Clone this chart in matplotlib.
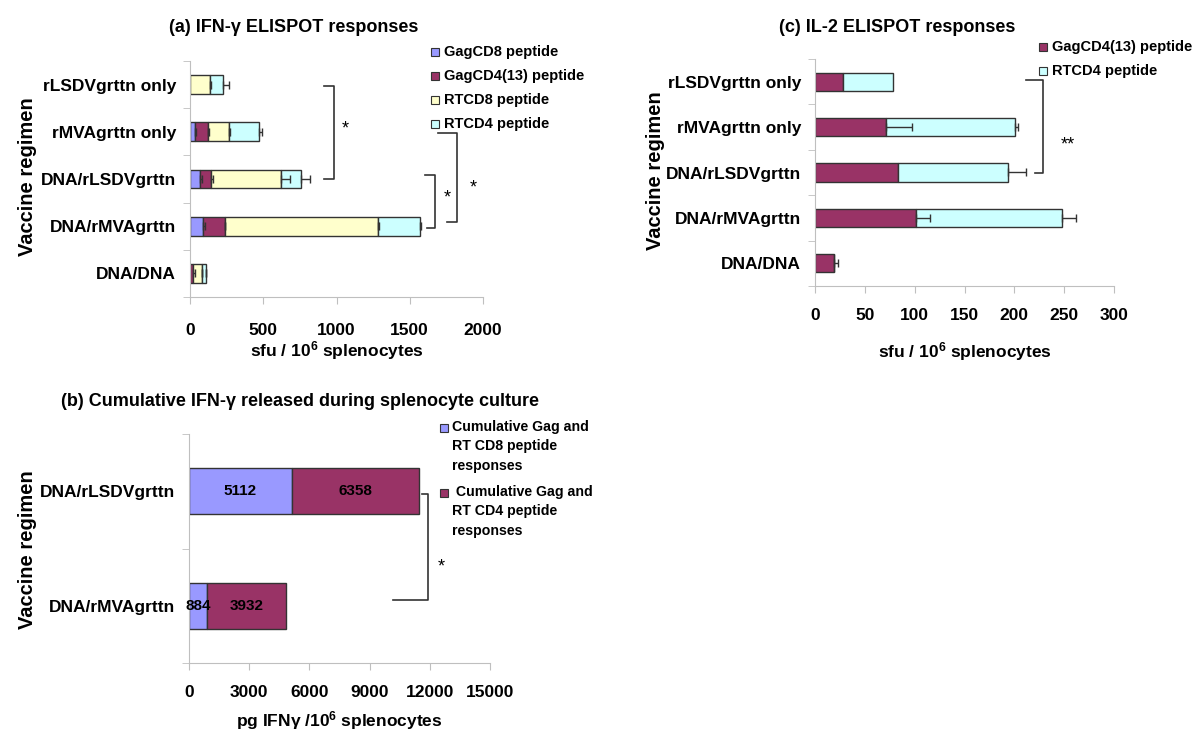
import numpy as np
import matplotlib
matplotlib.use('Agg')
import matplotlib.pyplot as plt
from matplotlib.patches import Rectangle

plt.rcParams['font.family'] = ['Liberation Sans', 'DejaVu Sans']
plt.rcParams['font.weight'] = 'bold'
plt.rcParams['axes.labelweight'] = 'bold'
plt.rcParams['mathtext.fontset'] = 'custom'
plt.rcParams['mathtext.bf'] = 'Liberation Sans:bold'
plt.rcParams['mathtext.rm'] = 'Liberation Sans:bold'
plt.rcParams['mathtext.default'] = 'bf'

# regimens, bottom to top
regimens = ['DNA/DNA', 'DNA/rMVAgrttn', 'DNA/rLSDVgrttn', 'rMVAgrttn only', 'rLSDVgrttn only']

# (a) IFN-g ELISPOT, stacked segments (sfu / 10^6 splenocytes)
ifn_gag_cd8 = [0, 92, 71, 34, 0]
ifn_gag_cd4 = [23, 144, 73, 92, 0]
ifn_rt_cd8 = [57, 1047, 475, 140, 138]
ifn_rt_cd4 = [28, 289, 136, 206, 89]
ifn_gag_cd8_err = [0, 9, 9, 10, 0]
ifn_gag_cd4_err = [9, 5, 10, 5, 0]
ifn_rt_cd8_err = [5, 5, 67, 5, 5]
ifn_rt_cd4_err = [4, 8, 64, 17, 37]
ifn_labels = ['GagCD8 peptide', 'GagCD4(13) peptide', 'RTCD8 peptide', 'RTCD4 peptide']

# (c) IL-2 ELISPOT
il2_gag_cd4 = [19.3, 101.3, 83.3, 71, 28.3]
il2_rt_cd4 = [0, 146.1, 110.7, 130, 50]
il2_gag_cd4_err = [3.4, 14, 0, 26.7, 0]
il2_rt_cd4_err = [0, 14.1, 17.6, 3, 0]
il2_labels = ['GagCD4(13) peptide', 'RTCD4 peptide']

# (b) cumulative IFN-g (pg / 10^6 splenocytes)
cum_regimens = ['DNA/rMVAgrttn', 'DNA/rLSDVgrttn']
cum_cd8 = [884, 5112]
cum_cd4 = [3932, 6358]
cum_labels = ['Cumulative Gag and\nRT CD8 peptide\nresponses',
              ' Cumulative Gag and\nRT CD4 peptide\nresponses']

BLUE, MAROON, YELLOW, CYAN = '#9999FF', '#993366', '#FFFFCC', '#CCFFFF'
EDGE = '#333333'
AXCOL = '#BFBFBF'

W, H = 1200, 752
fig = plt.figure(figsize=(12, 7.52), dpi=100)


def px_axes(left, top, right, bottom):
    return fig.add_axes([left / W, 1 - bottom / H, (right - left) / W, (bottom - top) / H])


def style(ax, cats, xmax, xstep, xpad, xlabel, xlab_pos, ylab_pos):
    n = len(cats)
    ax.set_xlim(0, xmax)
    ax.set_ylim(-0.5, n - 0.5)
    ax.set_xticks(np.arange(0, xmax + 1, xstep))
    ax.set_yticks(np.arange(n))
    ax.set_yticklabels(cats)
    ax.set_yticks(np.arange(n + 1) - 0.5, minor=True)
    for s in ['top', 'right']:
        ax.spines[s].set_visible(False)
    for s in ['left', 'bottom']:
        ax.spines[s].set_color(AXCOL)
    ax.tick_params(axis='y', which='major', length=0, pad=10, labelsize=12.5)
    ax.tick_params(axis='y', which='minor', length=5, color=AXCOL, direction='out')
    ax.tick_params(axis='x', length=5, color=AXCOL, direction='out', pad=xpad, labelsize=12.5)
    ax.set_xlabel(xlabel, fontsize=12.5, va='center')
    ax.xaxis.set_label_coords(*xlab_pos)
    ax.set_ylabel('Vaccine regimen', fontsize=14.5, va='center')
    ax.yaxis.set_label_coords(*ylab_pos)


def stacked(ax, series, colors, errs=None):
    y = np.arange(len(series[0]))
    left = np.zeros(len(y))
    ends = []
    for vals, c in zip(series, colors):
        vals = np.array(vals, dtype=float)
        ax.barh(y, vals, left=left, height=0.4, color=c, edgecolor=EDGE, linewidth=1, zorder=2)
        left = left + vals
        ends.append(left.copy())
    if errs is not None:
        for end, e in zip(ends, errs):
            e = np.array(e, dtype=float)
            m = e > 0
            ax.errorbar(end[m], y[m], xerr=[np.zeros(m.sum()), e[m]], fmt='none',
                        ecolor=EDGE, elinewidth=1, capsize=3, capthick=1, zorder=3)
    return ends


def bracket(ax, y_top, y_bot, x_top, x_bot, x_right, sx, sy, star):
    ax.plot([x_top, x_right, x_right, x_bot], [y_top, y_top, y_bot, y_bot],
            color=EDGE, lw=1.2, clip_on=False, zorder=4)
    ax.text(sx, sy, star, ha='center', va='center', fontsize=13, fontweight='normal')


def legend_boxes(labels, colors, x_box, x_text, ys, size=10.5, va='center', text_dy=0, spacing=1.2):
    for lab, c, yy in zip(labels, colors, ys):
        fig.patches.append(Rectangle((x_box / W, 1 - (yy + 4) / H), 8 / W, 8 / H,
                                     transform=fig.transFigure, facecolor=c,
                                     edgecolor=EDGE, lw=0.8))
        t = fig.text(x_text / W, 1 - (yy + text_dy) / H, lab, ha='left', va=va, fontsize=size)
        t.set_linespacing(spacing)


xlab = 'sfu / 10$^{6}$ splenocytes'

# ---- (a) ----
ax_a = px_axes(190, 61, 483, 297)
stacked(ax_a, [ifn_gag_cd8, ifn_gag_cd4, ifn_rt_cd8, ifn_rt_cd4], [BLUE, MAROON, YELLOW, CYAN],
        [ifn_gag_cd8_err, ifn_gag_cd4_err, ifn_rt_cd8_err, ifn_rt_cd4_err])
style(ax_a, regimens, 2000, 500, 14, xlab, (0.5, -0.225), (-0.556, 0.508))
bracket(ax_a, 3.97, 2.0, 915, 915, 983, 1058, 3.05, '*')
bracket(ax_a, 2.08, 0.96, 1604, 1620, 1672, 1753, 1.6, '*')
bracket(ax_a, 2.97, 1.09, 1695, 1752, 1823, 1932, 1.8, '*')
fig.text(294 / W, 1 - 28 / H, '(a) IFN-γ ELISPOT responses', ha='center', va='center', fontsize=13)
legend_boxes(ifn_labels, [BLUE, MAROON, YELLOW, CYAN], 431, 444, [52, 76, 100, 124])

# ---- (c) ----
ax_c = px_axes(815, 59, 1114, 286)
stacked(ax_c, [il2_gag_cd4, il2_rt_cd4], [MAROON, CYAN], [il2_gag_cd4_err, il2_rt_cd4_err])
style(ax_c, regimens, 300, 50, 11, xlab, (0.5, -0.29), (-0.535, 0.507))
bracket(ax_c, 4.04, 1.99, 211.6, 220.7, 228.4, 254, 2.6, '**')
fig.text(897 / W, 1 - 28 / H, '(c) IL-2 ELISPOT responses', ha='center', va='center', fontsize=13)
legend_boxes(il2_labels, [MAROON, CYAN], 1039, 1052, [46.7, 71])

# ---- (b) ----
ax_b = px_axes(189, 434, 490, 663)
ends = stacked(ax_b, [cum_cd8, cum_cd4], [BLUE, MAROON])
style(ax_b, cum_regimens, 15000, 3000, 11, 'pg IFNγ /10$^{6}$ splenocytes', (0.5, -0.25), (-0.538, 0.493))
yb = np.arange(len(cum_cd8))
for i in yb:
    ax_b.text(cum_cd8[i] / 2, i, str(cum_cd8[i]), ha='center', va='center', fontsize=11, zorder=5)
    ax_b.text(cum_cd8[i] + cum_cd4[i] / 2, i, str(cum_cd4[i]), ha='center', va='center', fontsize=11, zorder=5)
bracket(ax_b, 0.976, 0.05, 11624, 10179, 11893, 12590, 0.34, '*')
fig.text(300 / W, 1 - 401 / H, '(b) Cumulative IFN-γ released during splenocyte culture',
         ha='center', va='center', fontsize=13)
legend_boxes(cum_labels, [BLUE, MAROON], 440, 452, [428, 493], size=10.2, va='top',
             text_dy=-8, spacing=1.5)

fig.savefig('out.png', dpi=100)
